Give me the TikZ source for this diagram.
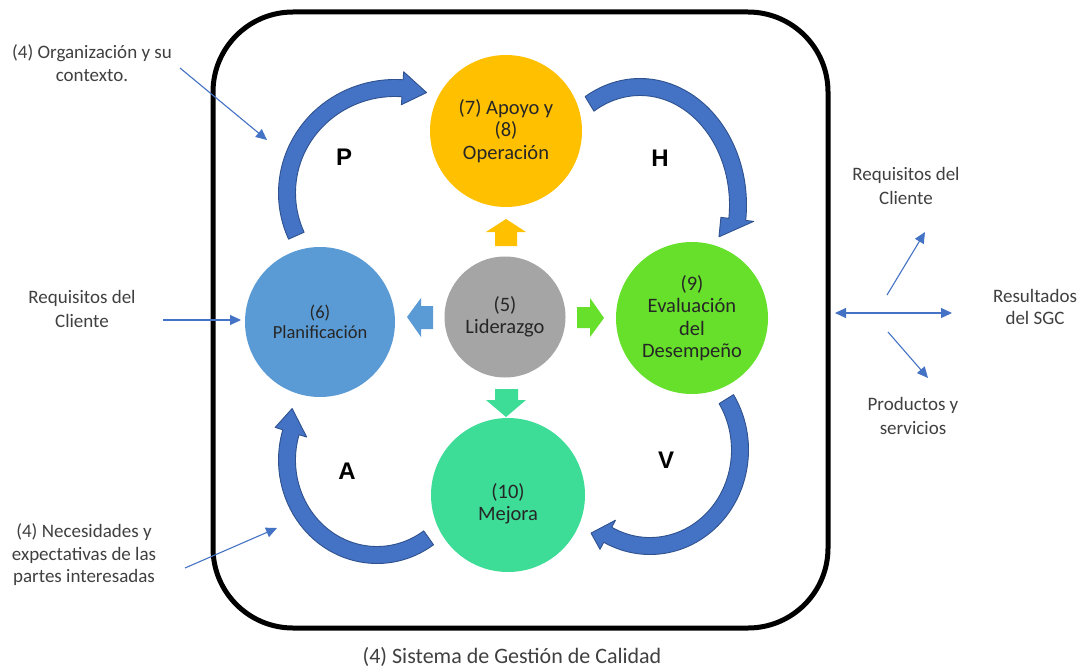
\documentclass[tikz,border=0pt]{standalone}
\usepackage{fontspec}
\setmainfont{Carlito}
\newfontfamily\letterfont{Liberation Sans}
\usetikzlibrary{arrows.meta}

\definecolor{apoyoyellow}{HTML}{FFC000}
\definecolor{planblue}{HTML}{5B9BD5}
\definecolor{lidergray}{HTML}{A5A5A5}
\definecolor{evalgreen}{HTML}{66E02A}
\definecolor{mejoramint}{HTML}{3DDC97}
\definecolor{cyclefill}{HTML}{4472C4}
\definecolor{cycleedge}{HTML}{2F528F}
\definecolor{labeltext}{HTML}{404040}
\definecolor{phasetext}{HTML}{262626}

% half widths of the curved PHVA arrows
\newcommand\shafthalf{8.5}
\newcommand\headhalf{16.5}

% curved block arrow along an ellipse
% #1,#2 centre; #3,#4 radii; #5 tail angle; #6 head base angle;
% #7 tip angle; #8 radial offset of the tip
\newcommand\bendarrow[8]{%
  \pgfmathsetmacro\bxo{#3+\shafthalf}\pgfmathsetmacro\byo{#4+\shafthalf}%
  \pgfmathsetmacro\bxi{#3-\shafthalf}\pgfmathsetmacro\byi{#4-\shafthalf}%
  \pgfmathsetmacro\hxo{#3+\headhalf}\pgfmathsetmacro\hyo{#4+\headhalf}%
  \pgfmathsetmacro\hxi{#3-\headhalf}\pgfmathsetmacro\hyi{#4-\headhalf}%
  \pgfmathsetmacro\txr{#3+#8}\pgfmathsetmacro\tyr{#4+#8}%
  \filldraw[cyclearrow]
    ({#1+\bxo*cos(#5)},{#2+\byo*sin(#5)})
    arc[start angle=#5, end angle=#6, x radius=\bxo pt, y radius=\byo pt]
    -- ({#1+\hxo*cos(#6)},{#2+\hyo*sin(#6)})
    -- ({#1+\txr*cos(#7)},{#2+\tyr*sin(#7)})
    -- ({#1+\hxi*cos(#6)},{#2+\hyi*sin(#6)})
    -- ({#1+\bxi*cos(#6)},{#2+\byi*sin(#6)})
    arc[start angle=#6, end angle=#5, x radius=\bxi pt, y radius=\byi pt]
    -- cycle;}

\begin{document}
\begin{tikzpicture}[x=1pt,y=1pt,
  phasefont/.style={align=center, text=phasetext,
    font=\fontsize{20.5}{22.5}\selectfont},
  phase/.style={circle, inner sep=0pt, phasefont},
  outerlabel/.style={align=center, text=labeltext, inner sep=0pt,
    font=\fontsize{19}{23.5}\selectfont},
  cycleletter/.style={font=\letterfont\bfseries\fontsize{24}{26}\selectfont, inner sep=0pt},
  cyclearrow/.style={fill=cyclefill, draw=cycleedge, line width=0.9pt, line join=round},
  thinarrow/.style={draw=cyclefill, line width=1.1pt,
    -{Triangle[length=11pt,width=10pt]}},
  pusharrow/.style={line join=miter}]

\useasboundingbox (0,0) rectangle (1083,-671);
\fill[white] (0,0) rectangle (1083,-671);

% system boundary
\draw[line width=5pt, rounded corners=80pt] (213,-12) rectangle (828,-628);

% process circles
\node[phase, fill=apoyoyellow, minimum size=152pt] (apoyo) at (506,-131)
  {(7) Apoyo y\\(8)\\Operación};
\node[phase, fill=planblue, minimum size=150pt,
  font=\fontsize{18.5}{20.5}\selectfont] (plan) at (320,-322)
  {(6)\\Planificación};
\node[phase, fill=lidergray, minimum size=121pt] (lider) at (505,-317)
  {(5)\\Liderazgo};
\node[phase, fill=evalgreen, minimum size=152pt] (eval) at (692,-318)
  {(9)\\Evaluación\\del\\Desempeño};
\node[phase, fill=mejoramint, minimum size=154pt,
  label={[phasefont, inner sep=0pt, yshift=-9pt]center:{(10)\\Mejora}}]
  (mejora) at (508,-495) {};

% block arrows leaving the leadership circle
\fill[apoyoyellow, pusharrow] (495,-246) -- (495,-232) -- (486,-232) -- (506,-219)
  -- (526,-232) -- (517,-232) -- (517,-246) -- cycle;
\fill[planblue, pusharrow] (433,-306) -- (421,-306) -- (421,-298) -- (407,-317)
  -- (421,-337) -- (421,-329) -- (433,-329) -- cycle;
\fill[evalgreen, pusharrow] (577,-307) -- (590,-307) -- (590,-298) -- (604,-318)
  -- (590,-337) -- (590,-328) -- (577,-328) -- cycle;
\fill[mejoramint, pusharrow] (495,-389) -- (495,-400) -- (486,-400) -- (506,-417)
  -- (526,-400) -- (518,-400) -- (518,-389) -- cycle;

% PHVA cycle arrows
\bendarrow{395}{-193}{108}{105}{204}{86}{73}{0}
\bendarrow{640}{-205}{98}{118}{121}{-7}{-18}{-15}
\bendarrow{650}{-450}{90}{96}{32}{-118}{-127}{8}
\bendarrow{377}{-460}{90}{95}{-55}{-197}{-210}{8}

\node[cycleletter] (letP) at (344,-157) {P};
\node[cycleletter] (letH) at (660,-158) {H};
\node[cycleletter] (letV) at (666,-460) {V};
\node[cycleletter] (letA) at (347,-471) {A};

% inputs
\node[outerlabel] (orgctx) at (92,-63) {(4) Organización y su\\contexto.};
\node[outerlabel] (reqin) at (82,-309) {Requisitos del\\Cliente};
\node[outerlabel, font=\fontsize{19}{22.5}\selectfont] (partes) at (84,-555)
  {(4) Necesidades y\\expectativas de las\\partes interesadas};

\coordinate (orgA) at (180,-68);
\coordinate (orgB) at (267,-140);
\coordinate (reqA) at (163,-320);
\coordinate (reqB) at (241,-320);
\coordinate (parA) at (185,-568);
\coordinate (parB) at (277,-528);
\draw[thinarrow] (orgA) -- (orgB);
\draw[thinarrow] (reqA) -- (reqB);
\draw[thinarrow] (parA) -- (parB);

% outputs
\node[outerlabel, font=\fontsize{19}{24.5}\selectfont] (reqout) at (906,-186)
  {Requisitos del\\Cliente};
\node[outerlabel, font=\fontsize{19}{22.5}\selectfont] (results) at (1035,-307)
  {Resultados\\del SGC};
\node[outerlabel, font=\fontsize{19}{24}\selectfont] (products) at (913,-416)
  {Productos y\\servicios};

\coordinate (outL) at (835,-313);
\coordinate (outR) at (952,-313);
\coordinate (upA) at (887,-295);
\coordinate (upB) at (925,-232);
\coordinate (dnA) at (888,-332);
\coordinate (dnB) at (928,-378);
\draw[thinarrow, {Triangle[length=11pt,width=10pt]}-{Triangle[length=11pt,width=10pt]}] (outL) -- (outR);
\draw[thinarrow] (upA) -- (upB);
\draw[thinarrow] (dnA) -- (dnB);

% caption
\node[outerlabel, font=\fontsize{22}{24}\selectfont] (sgc) at (512,-657)
  {(4) Sistema de Gestión de Calidad};
\end{tikzpicture}
\end{document}
